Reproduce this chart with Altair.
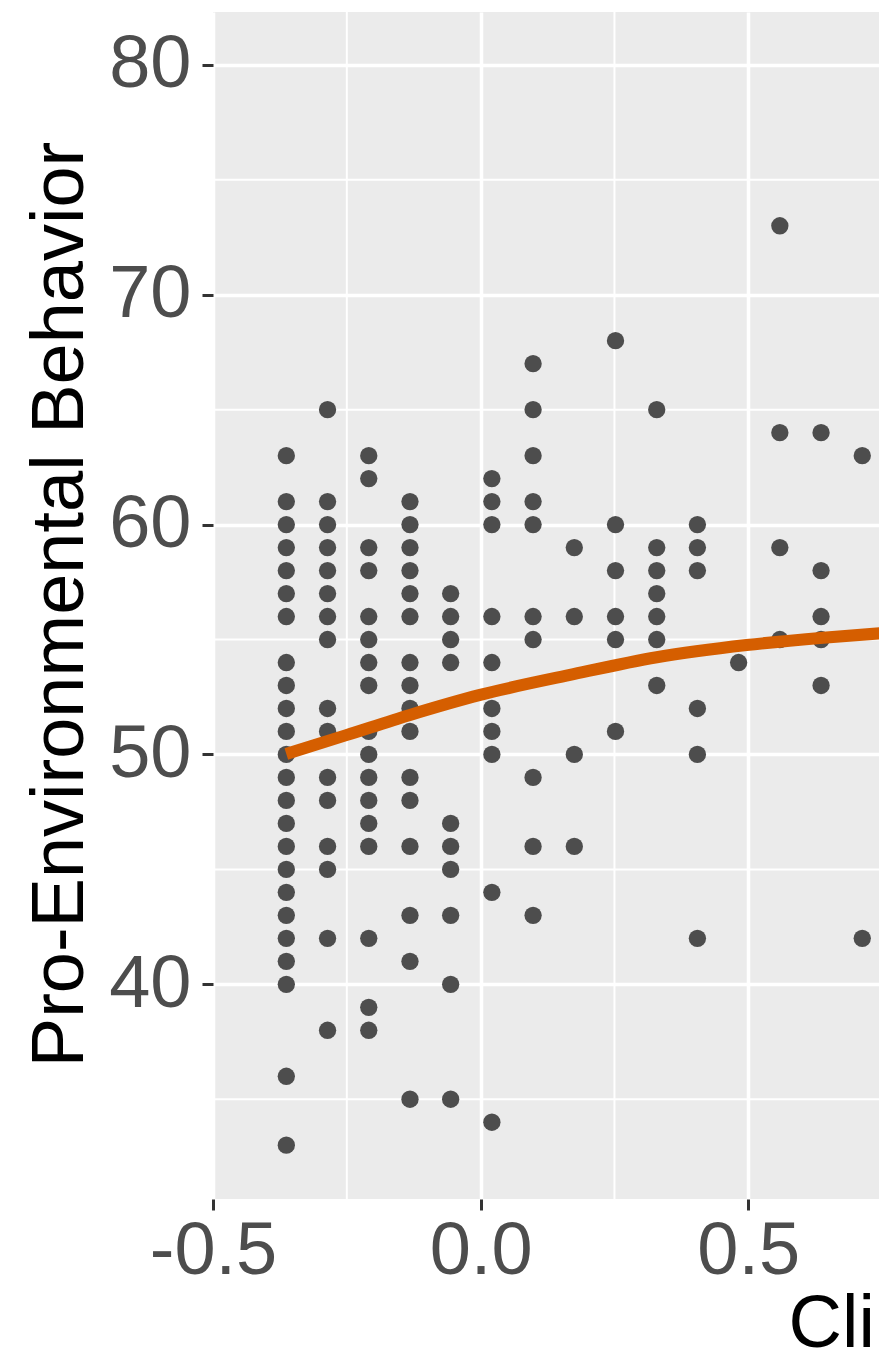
import altair as alt
import pandas as pd

# ---- data ----
col_x = [-0.363, -0.286, -0.209, -0.132, -0.056, 0.021, 0.098, 0.175,
         0.252, 0.329, 0.405, 0.482, 0.559, 0.636, 0.713]
col_y = [
    [63, 61, 60, 59, 58, 57, 56, 54, 53, 52, 51, 50, 49, 48, 47, 46, 45, 44, 43, 42, 41, 40, 36, 33],
    [65, 61, 60, 59, 58, 57, 56, 55, 52, 51, 49, 48, 46, 45, 42, 38],
    [63, 62, 59, 58, 56, 55, 54, 53, 51, 50, 49, 48, 47, 46, 42, 39, 38],
    [61, 60, 59, 58, 57, 56, 54, 53, 52, 51, 49, 48, 46, 43, 41, 35],
    [57, 56, 55, 54, 47, 46, 45, 43, 40, 35],
    [62, 61, 60, 56, 54, 52, 51, 50, 44, 34],
    [67, 65, 63, 61, 60, 56, 55, 49, 46, 43],
    [59, 56, 50, 46],
    [68, 60, 58, 56, 55, 51],
    [65, 59, 58, 57, 56, 55, 53],
    [60, 59, 58, 52, 50, 42],
    [54],
    [73, 64, 59, 55],
    [64, 58, 56, 55, 53],
    [63, 42],
]

fit_x = [-0.363, -0.251, -0.132, -0.001, 0.167, 0.329, 0.497, 0.640, 0.746]
fit_y = [50.02, 50.84, 51.72, 52.59, 53.46, 54.23, 54.76, 55.08, 55.27]

x_major = [-0.5, 0.0, 0.5]
x_minor = [-0.25, 0.25]
y_major = [40, 50, 60, 70, 80]
y_minor = [35, 45, 55, 65, 75]

x_title = "Climate Change Concern"
y_title = "Pro-Environmental Behavior"

# ---- tables ----
pts = pd.DataFrame(
    [{"x": xv, "y": yv} for xv, ys in zip(col_x, col_y) for yv in ys]
)
fit = pd.DataFrame({"x": fit_x, "y": fit_y})
xmin_df = pd.DataFrame({"x": x_minor})
ymin_df = pd.DataFrame({"y": y_minor})

FONT = "Liberation Sans"
xscale = alt.Scale(domain=[-0.5, 0.748], nice=False, zero=False)
yscale = alt.Scale(domain=[30.66, 82.3], nice=False, zero=False)

x_axis = alt.Axis(
    values=x_major, grid=True, gridColor="white", gridWidth=3.5,
    labelExpr="datum.value < 0 ? '-' + format(-datum.value, '.1f') : format(datum.value, '.1f')",
    domain=False, tickColor="#333333", tickWidth=3, tickSize=11,
    labelFont=FONT, labelFontSize=74, labelColor="#4D4D4D", labelPadding=5,
    labelFlush=False, labelOverlap=False,
    title=x_title, titleFont=FONT, titleFontSize=74, titleColor="black",
    titleFontWeight="normal", titleAlign="left", titleAnchor="start",
    titleX=575, titleY=147, titleBaseline="alphabetic",
)
y_axis = alt.Axis(
    values=y_major, grid=True, gridColor="white", gridWidth=3.5,
    domain=False, tickColor="#333333", tickWidth=3, tickSize=11,
    labelFont=FONT, labelFontSize=74, labelColor="#4D4D4D", labelPadding=11,
    labelFlush=False, labelOverlap=False,
    title=y_title, titleFont=FONT, titleFontSize=74, titleColor="black",
    titleFontWeight="normal", titleAngle=270, titleAlign="center",
    titleX=-131, titleY=592, titleBaseline="alphabetic",
)

minor_v = alt.Chart(xmin_df).mark_rule(color="white", strokeWidth=2).encode(
    x=alt.X("x:Q", scale=xscale, axis=x_axis)
)
minor_h = alt.Chart(ymin_df).mark_rule(color="white", strokeWidth=2).encode(
    y=alt.Y("y:Q", scale=yscale, axis=y_axis)
)
points = alt.Chart(pts).mark_circle(size=300, color="#4D4D4D", opacity=1).encode(
    x=alt.X("x:Q", scale=xscale, axis=x_axis),
    y=alt.Y("y:Q", scale=yscale, axis=y_axis),
)
line = alt.Chart(fit).mark_line(
    color="#D55E00", strokeWidth=12, interpolate="monotone", clip=True
).encode(
    x=alt.X("x:Q", scale=xscale, axis=x_axis),
    y=alt.Y("y:Q", scale=yscale, axis=y_axis),
)

chart = alt.layer(minor_v, minor_h, points, line).properties(
    width=668,
    height=1187,
    autosize=alt.AutoSizeParams(type="none"),
    padding={"left": 205, "top": 4, "right": -2, "bottom": 149},
    background="white",
).configure_view(fill="#EBEBEB", stroke=None)

chart.save("out.html", embed_options={"renderer": "svg", "actions": False})
